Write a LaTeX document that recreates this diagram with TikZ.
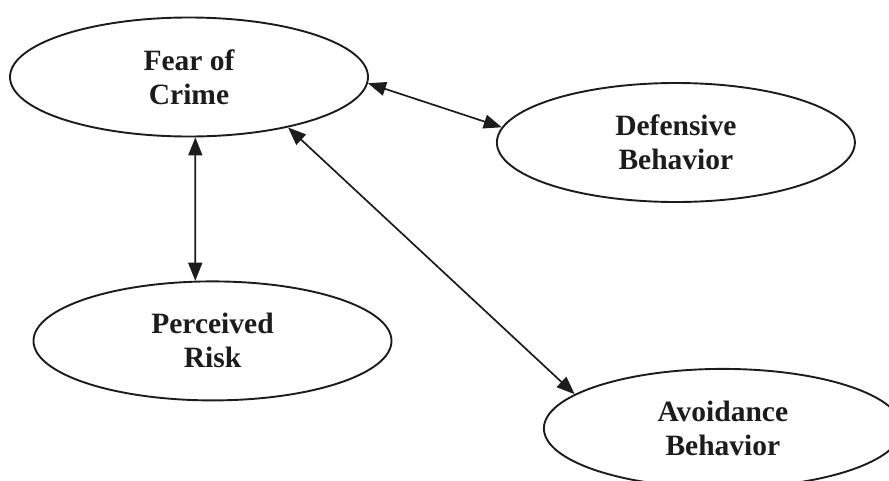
\documentclass[tikz,border=0pt]{standalone}
\usepackage{fontspec}
\setmainfont{Liberation Serif}
\usepackage{tikz}
\usetikzlibrary{arrows.meta, positioning, shapes.geometric}
\definecolor{ink}{HTML}{1C1C1C}

\begin{document}
\begin{tikzpicture}[
  x=1pt, y=-1pt,
  oval/.style={ellipse, draw=ink, line width=1.9pt, fill=white,
              minimum width=358pt, minimum height=119pt,
              font=\fontsize{29.5}{34}\selectfont\bfseries, text=ink, align=center},
  arr/.style={{Triangle[length=18pt,width=14pt]}-{Triangle[length=18pt,width=14pt]},
              line width=1.7pt, color=ink}
]
  \clip (0,0) rectangle (889,480);
  \useasboundingbox (0,0) rectangle (889,480);

  % constructs
  \node[oval] (fear) at (189,77) {Fear of\\Crime};
  \node[oval, right=127pt of fear, yshift=-65.5pt] (defense) {Defensive\\Behavior};
  \node[oval, below=143pt of fear, xshift=23.5pt] (risk) {Perceived\\Risk};
  \node[oval, below=165pt of defense, xshift=47pt] (avoid) {Avoidance\\Behavior};

  % links
  \draw[arr] (fear.358) -- (defense.175);
  \draw[arr] (fear.276) -- (risk.106);
  \draw[arr] (fear.333) -- (avoid.167);
\end{tikzpicture}
\end{document}
